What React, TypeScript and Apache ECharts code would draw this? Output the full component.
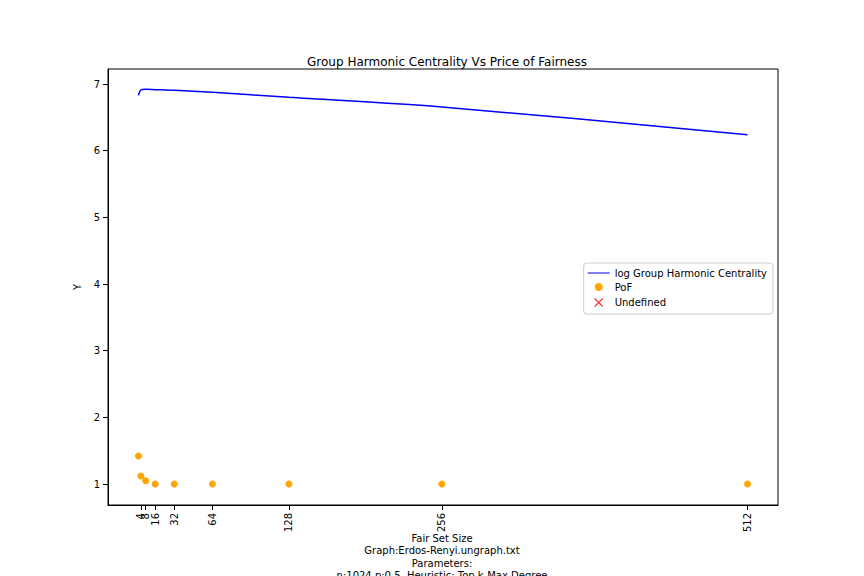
import { useEffect, useRef } from "react";
import * as echarts from "echarts";

const FAIR_SET_SIZES = [2, 4, 8, 16, 32, 64, 128, 256, 512];
const LOG_GHC = [6.83, 6.91, 6.92, 6.915, 6.905, 6.875, 6.8, 6.655, 6.24];
const POF = [1.42, 1.12, 1.05, 1.0, 1.0, 1.0, 1.0, 1.0, 1.0];
const Y_TICKS = [1, 2, 3, 4, 5, 6, 7];
const X_LABEL_LINES = [
  "Fair Set Size",
  "Graph:Erdos-Renyi.ungraph.txt",
  "Parameters:",
  "n:1024 p:0.5  Heuristic: Top k-Max Degree",
];

const FONT = "DejaVu Sans";
const CROSS = "path://M0,0L10,10M10,0L0,10";

export default function App() {
  const ref = useRef<HTMLDivElement>(null);

  useEffect(() => {
    document.body.style.margin = "0";
    if (!ref.current) return;
    const chart = echarts.init(ref.current, null, { renderer: "svg" });
    chart.setOption({
      animation: false,
      textStyle: { fontFamily: FONT },
      title: {
        text: "Group Harmonic Centrality Vs Price of Fairness",
        left: 442,
        textAlign: "center",
        top: 51,
        textStyle: { fontFamily: FONT, fontSize: 12, fontWeight: "normal", color: "#000" },
      },
      grid: { left: 108, right: 86, top: 69, bottom: 71, show: true, borderColor: "#000", borderWidth: 1 },
      xAxis: {
        type: "value",
        min: -23.5,
        max: 537.5,
        splitLine: { show: false },
        axisLine: { onZero: false, lineStyle: { color: "#000" } },
        axisTick: { show: true, customValues: FAIR_SET_SIZES, lineStyle: { color: "#000" } },
        axisLabel: {
          customValues: FAIR_SET_SIZES,
          rotate: 90,
          color: "#000",
          fontSize: 10,
          fontFamily: FONT,
        },
      },
      yAxis: {
        type: "value",
        min: 0.685,
        max: 7.225,
        name: "Y",
        nameLocation: "middle",
        nameGap: 24,
        nameTextStyle: { color: "#000", fontSize: 10, fontFamily: FONT },
        splitLine: { show: false },
        axisLine: { show: true, onZero: false, lineStyle: { color: "#000" } },
        axisTick: { show: true, customValues: Y_TICKS, lineStyle: { color: "#000" } },
        axisLabel: { customValues: Y_TICKS, color: "#000", fontSize: 10, fontFamily: FONT },
      },
      legend: {
        orient: "vertical",
        right: 91,
        top: 263,
        itemGap: 4,
        itemWidth: 22,
        itemHeight: 8,
        padding: [5, 6, 5, 4],
        backgroundColor: "#fff",
        borderColor: "#ccc",
        borderWidth: 1,
        borderRadius: 3,
        textStyle: { color: "#000", fontSize: 10, fontFamily: FONT },
        data: [
          { name: "log Group Harmonic Centrality", icon: "path://M0,4L22,4L22,5L0,5Z" },
          { name: "PoF", icon: "circle" },
          { name: "Undefined", icon: CROSS, itemStyle: { borderColor: "red", borderWidth: 1.2, color: "none" } },
        ],
      },
      series: [
        {
          name: "log Group Harmonic Centrality",
          type: "line",
          smooth: 0.3,
          showSymbol: false,
          lineStyle: { color: "blue", width: 1.5 },
          itemStyle: { color: "blue" },
          data: FAIR_SET_SIZES.map((x, i) => [x, LOG_GHC[i]]),
        },
        {
          name: "PoF",
          type: "scatter",
          symbolSize: 7,
          itemStyle: { color: "orange", opacity: 1 },
          data: FAIR_SET_SIZES.map((x, i) => [x, POF[i]]),
        },
        {
          name: "Undefined",
          type: "scatter",
          symbol: CROSS,
          itemStyle: { color: "red" },
          data: [],
        },
      ],
      graphic: X_LABEL_LINES.map((t, i) => ({
        type: "text",
        x: 442,
        y: 533 + i * 12.5,
        style: { text: t, textAlign: "center", fill: "#000", fontSize: 10, fontFamily: FONT },
      })),
    });
    return () => chart.dispose();
  }, []);

  return <div ref={ref} style={{ width: 864, height: 576 }} />;
}
